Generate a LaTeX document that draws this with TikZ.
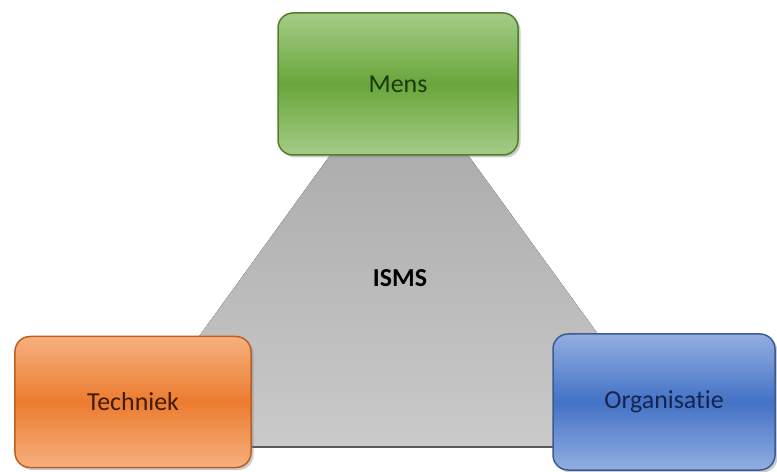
\documentclass[tikz,border=0pt]{standalone}
\usepackage{fontspec}
\setmainfont{Carlito}[Ligatures=NoCommon]
\usetikzlibrary{shadows}
\definecolor{mensLight}{RGB}{166,204,136}
\definecolor{mensMid}{RGB}{104,166,58}
\definecolor{mensLine}{RGB}{80,126,44}
\definecolor{mensText}{RGB}{28,56,14}
\definecolor{techLight}{RGB}{246,176,126}
\definecolor{techMid}{RGB}{236,124,48}
\definecolor{techLine}{RGB}{190,94,34}
\definecolor{techText}{RGB}{62,28,8}
\definecolor{orgLight}{RGB}{146,174,226}
\definecolor{orgMid}{RGB}{68,114,198}
\definecolor{orgLine}{RGB}{60,90,146}
\definecolor{orgText}{RGB}{22,36,78}
\definecolor{triTop}{RGB}{164,164,164}
\definecolor{triBottom}{RGB}{202,202,202}
\definecolor{triEdge}{RGB}{90,90,90}

\begin{document}
\begin{tikzpicture}[
	x=1bp, y=-1bp,
	pillar/.style={
		rectangle,
		rounded corners=15bp,
		line width=1.5bp,
		inner sep=0,
		font=\fontsize{26}{30}\selectfont,
		drop shadow={opacity=0.4, shadow xshift=2.5bp, shadow yshift=-2.5bp}
	},
	mens box/.style={
		pillar,
		draw=mensLine,
		top color=mensLight,
		bottom color=mensLight,
		middle color=mensMid,
		text=mensText
	},
	tech box/.style={
		pillar,
		draw=techLine,
		top color=techLight,
		bottom color=techLight,
		middle color=techMid,
		text=techText
	},
	org box/.style={
		pillar,
		draw=orgLine,
		top color=orgLight,
		bottom color=orgLight,
		middle color=orgMid,
		text=orgText
	}
]
	\useasboundingbox (0,0) rectangle (777,472);

	% the gray triangle behind the three boxes
	\coordinate (tri top) at (399,60);
	\coordinate (tri left) at (119,447);
	\coordinate (tri right) at (680,447);
	\fill[top color=triTop, bottom color=triBottom]
		(tri top) -- (tri right) -- (tri left) -- cycle;
	\draw[triEdge, line width=2.5bp] (tri left) -- (tri right);
	\node[font=\bfseries\fontsize{26}{30}\selectfont] (isms) at (400,278) {ISMS};

	% the three corners
	\node[mens box, minimum width=240bp, minimum height=142bp] (mens) at (398,84) {Mens};
	\node[tech box, minimum width=236bp, minimum height=131bp] (techniek) at (133,402) {Techniek};
	\node[org box, minimum width=222bp, minimum height=136bp] (organisatie) at (664,402) {Organisatie};
\end{tikzpicture}
\end{document}
